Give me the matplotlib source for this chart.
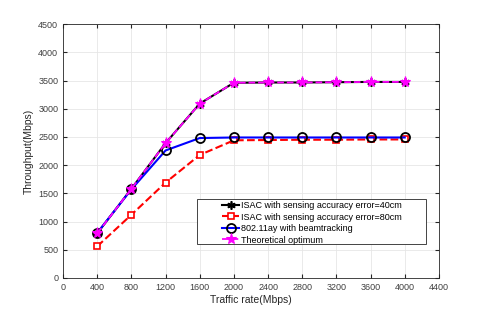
import matplotlib
matplotlib.use("Agg")
import matplotlib.pyplot as plt
from matplotlib.patches import Rectangle

plt.rcParams['font.family'] = ['Liberation Sans', 'DejaVu Sans']

# data
traffic = [400, 800, 1200, 1600, 2000, 2400, 2800, 3200, 3600, 4000]
isac_40 = [790, 1580, 2390, 3090, 3460, 3465, 3465, 3470, 3475, 3475]
isac_80 = [560, 1120, 1690, 2180, 2440, 2445, 2450, 2450, 2455, 2455]
ay_beam = [800, 1570, 2260, 2480, 2490, 2490, 2490, 2490, 2490, 2490]
optimum = [790, 1580, 2390, 3090, 3460, 3465, 3465, 3470, 3475, 3475]

xticks = list(range(0, 4401, 400))
yticks = list(range(0, 4501, 500))

fig = plt.figure(figsize=(4.85, 3.13), dpi=100)
ax = fig.add_axes([0.130, 0.112, 0.775, 0.811])

ax.plot(traffic, isac_40, '-', color='black', lw=1.5,
        marker=(6, 2, 0), ms=6, mew=1.2, mec='black',
        label='ISAC with sensing accuracy error=40cm')
ax.plot(traffic, isac_80, '--', color='red', lw=1.5,
        marker='s', ms=5, mfc='white', mec='red', mew=1.2,
        label='ISAC with sensing accuracy error=80cm')
ax.plot(traffic, ay_beam, '-', color='blue', lw=1.5,
        marker='o', ms=6.5, mfc='none', mec='black', mew=1.3,
        label='802.11ay with beamtracking')
ax.plot(traffic, optimum, '--', color='magenta', lw=1.3,
        marker='*', ms=8, mfc='magenta', mec='magenta', mew=0.8,
        label='Theoretical optimum')

ax.set_xlim(0, 4400)
ax.set_ylim(0, 4500)
ax.set_xticks(xticks)
ax.set_yticks(yticks)
ax.grid(True, color='#e6e6e6', lw=0.6)
ax.set_axisbelow(True)
ax.tick_params(direction='in', length=3, labelsize=6.5, colors='#262626',
               top=True, right=True, labelcolor='#404040')
for s in ax.spines.values():
    s.set_color('#262626')
    s.set_linewidth(0.6)

ax.set_xlabel('Traffic rate(Mbps)', fontsize=7.5, color='#262626', labelpad=2)
ax.set_ylabel('Throughput(Mbps)', fontsize=7.5, color='#262626', labelpad=3)

# matlab-style legend box, wider than its contents
ax.add_patch(Rectangle((0.356, 0.135), 0.609, 0.176, transform=ax.transAxes,
                       facecolor='white', edgecolor='#262626', lw=0.6,
                       zorder=4))
leg = ax.legend(loc='upper left', bbox_to_anchor=(0.423, 0.303),
                fontsize=6.5, frameon=False,
                handlelength=1.9, handletextpad=0.25, labelspacing=0.28,
                borderpad=0, borderaxespad=0)
leg.set_zorder(5)

fig.savefig('out.png', dpi=100)
